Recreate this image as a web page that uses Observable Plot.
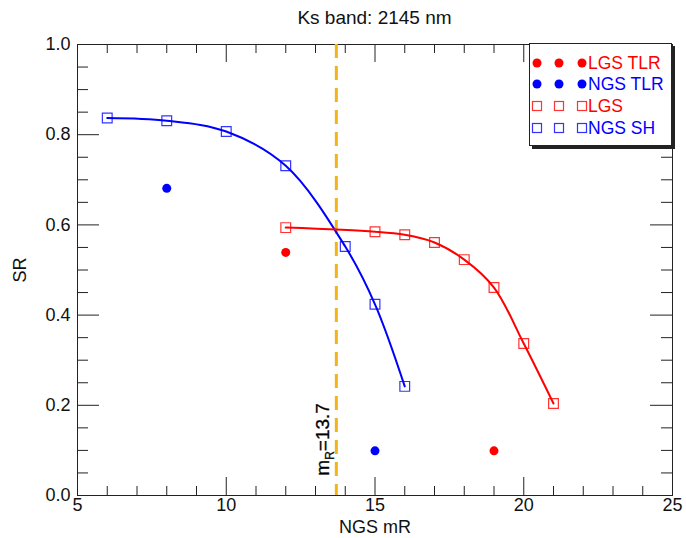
<!DOCTYPE html>
<html>
<head>
<meta charset="utf-8">
<script src="https://cdn.jsdelivr.net/npm/d3@7"></script>
<script src="https://cdn.jsdelivr.net/npm/@observablehq/plot@0.6"></script>
<style>
  html, body { margin: 0; padding: 0; background: #fff; }
  #wrap { position: relative; width: 686px; height: 538px; font-family: "Liberation Sans", Arial, Helvetica, sans-serif; }
  #title { position: absolute; left: 77px; top: 7px; width: 595px; text-align: center; font-size: 19px; line-height: 22px; color: #111; }
  #legend { position: absolute; left: 529px; top: 43px; width: 143px; height: 103px; box-sizing: border-box;
            border: 1px solid #222; background: #fff; box-shadow: 3px 3px 0 #222; }
  #chart { position: absolute; left: 0; top: 0; }
</style>
</head>
<body>
<div id="wrap">
  <div id="chart"></div>
  <div id="title"></div>
  <div id="legend"></div>
</div>
<script>
// ---- data ----
const ngsShX = [6, 8, 10, 12, 14, 15, 16];
const ngsShY = [0.837, 0.831, 0.807, 0.731, 0.552, 0.424, 0.242];
const lgsX = [12, 15, 16, 17, 18, 19, 20, 21];
const lgsY = [0.594, 0.585, 0.578, 0.561, 0.523, 0.461, 0.337, 0.204];
const ngsTlrX = [8, 15];
const ngsTlrY = [0.681, 0.099];
const lgsTlrX = [12, 19];
const lgsTlrY = [0.539, 0.099];
const mRValue = 13.7;
const mRText = "mR=13.7";
const xMajor = [5, 10, 15, 20, 25];
const xMinor = [6, 7, 8, 9, 11, 12, 13, 14, 16, 17, 18, 19, 21, 22, 23, 24];
const yMajor = [0.0, 0.2, 0.4, 0.6, 0.8, 1.0];
const yMinor = [0.05, 0.1, 0.15, 0.25, 0.3, 0.35, 0.45, 0.5, 0.55, 0.65, 0.7, 0.75, 0.85, 0.9, 0.95];
const legendLabels = ["LGS TLR", "NGS TLR", "LGS", "NGS SH"];
const legendColors = ["#ff0000", "#0000ff", "#ff0000", "#0000ff"];
const legendShapes = ["dot", "dot", "square", "square"];
const titleText = "Ks band: 2145 nm";
const xLabel = "NGS mR";
const yLabel = "SR";

// ---- tables ----
const ngsSh = ngsShX.map((x, i) => ({x, y: ngsShY[i]}));
const lgs = lgsX.map((x, i) => ({x, y: lgsY[i]}));
const ngsTlr = ngsTlrX.map((x, i) => ({x, y: ngsTlrY[i]}));
const lgsTlr = lgsTlrX.map((x, i) => ({x, y: lgsTlrY[i]}));

const W = 686, H = 538, mL = 77, mR = 14, mT = 44, mB = 43;
const pw = W - mL - mR, ph = H - mT - mB;
const RED = "#ff0000", BLUE = "#0000ff", GOLD = "#f2b418", INK = "#222";

const plot = Plot.plot({
  width: W, height: H,
  marginLeft: mL, marginRight: mR, marginTop: mT, marginBottom: mB,
  style: {fontFamily: "Liberation Sans, Arial, Helvetica, sans-serif", fontSize: "18px", color: "#111", background: "#fff"},
  x: {domain: [5, 25]},
  y: {domain: [0, 1]},
  marks: [
    // ticks (inward), bottom/top/left/right
    Plot.ruleX(xMajor, {x: d => d, insetTop: ph - 18, stroke: INK}),
    Plot.ruleX(xMajor, {x: d => d, insetBottom: ph - 18, stroke: INK}),
    Plot.ruleX(xMinor, {x: d => d, insetTop: ph - 9, stroke: INK}),
    Plot.ruleX(xMinor, {x: d => d, insetBottom: ph - 9, stroke: INK}),
    Plot.ruleY(yMajor, {y: d => d, insetRight: pw - 22, stroke: INK}),
    Plot.ruleY(yMajor, {y: d => d, insetLeft: pw - 22, stroke: INK}),
    Plot.ruleY(yMinor, {y: d => d, insetRight: pw - 11, stroke: INK}),
    Plot.ruleY(yMinor, {y: d => d, insetLeft: pw - 11, stroke: INK}),
    Plot.axisX(xMajor, {tickSize: 0, tickPadding: 3, tickFormat: d3.format("d"),
      label: xLabel, labelAnchor: "center", labelOffset: 37, labelArrow: "none", fontSize: 18}),
    Plot.axisY(yMajor, {tickSize: 0, tickPadding: 7, tickFormat: d3.format(".1f"),
      label: yLabel, labelAnchor: "center", labelOffset: 64, labelArrow: "none", fontSize: 18}),
    Plot.frame({stroke: INK}),
    // vertical m_R line
    Plot.ruleX([mRValue], {x: d => d, stroke: GOLD, strokeWidth: 3, strokeDasharray: "14,8"}),
    Plot.text([mRText], {x: mRValue, y: 0.044, text: d => d, rotate: -90, textAnchor: "start",
      dx: -13, fontSize: 19, fill: "#000", stroke: "#000", strokeWidth: 0.3}),
    // fitted curves
    Plot.line(ngsSh, {x: "x", y: "y", stroke: BLUE, strokeWidth: 2, curve: "catmull-rom"}),
    Plot.line(lgs, {x: "x", y: "y", stroke: RED, strokeWidth: 2, curve: "catmull-rom"}),
    // squares
    Plot.dot(ngsSh, {x: "x", y: "y", symbol: "square", r: 5.5, stroke: BLUE, strokeOpacity: 0.8, strokeWidth: 1.2, fill: "none"}),
    Plot.dot(lgs, {x: "x", y: "y", symbol: "square", r: 5.5, stroke: RED, strokeOpacity: 0.8, strokeWidth: 1.2, fill: "none"}),
    // TLR dots
    Plot.dot(ngsTlr, {x: "x", y: "y", r: 4.5, fill: BLUE, stroke: "none"}),
    Plot.dot(lgsTlr, {x: "x", y: "y", r: 4.5, fill: RED, stroke: "none"})
  ]
});
document.getElementById("chart").appendChild(plot);
document.getElementById("title").textContent = titleText;

// subscript in m_R label
for (const t of plot.querySelectorAll("text")) {
  if (t.textContent === mRText) {
    const sub = mRText.slice(1, 2), rest = mRText.slice(2);
    t.textContent = mRText.slice(0, 1);
    const ns = "http://www.w3.org/2000/svg";
    const s1 = document.createElementNS(ns, "tspan");
    s1.setAttribute("dy", "5"); s1.setAttribute("font-size", "12"); s1.textContent = sub;
    const s2 = document.createElementNS(ns, "tspan");
    s2.setAttribute("dy", "-5"); s2.textContent = rest;
    t.appendChild(s1); t.appendChild(s2);
  }
}

// legend
const lg = d3.select("#legend").append("svg").attr("width", 141).attr("height", 101)
  .style("font-family", "Liberation Sans, Arial, Helvetica, sans-serif").style("font-size", "17.5px");
const rowsY = [19, 40, 62, 84];
legendLabels.forEach((lab, i) => {
  const c = legendColors[i];
  [7, 29, 52].forEach(x => {
    if (legendShapes[i] === "dot") lg.append("circle").attr("cx", x).attr("cy", rowsY[i]).attr("r", 4.5).attr("fill", c);
    else lg.append("rect").attr("x", x - 4.5).attr("y", rowsY[i] - 4.5).attr("width", 9).attr("height", 9)
      .attr("fill", "none").attr("stroke", c).attr("stroke-opacity", 0.8).attr("stroke-width", 1.2);
  });
  lg.append("text").attr("x", 58).attr("y", rowsY[i]).attr("dy", "0.36em").attr("fill", c).text(lab);
});
</script>
</body>
</html>
